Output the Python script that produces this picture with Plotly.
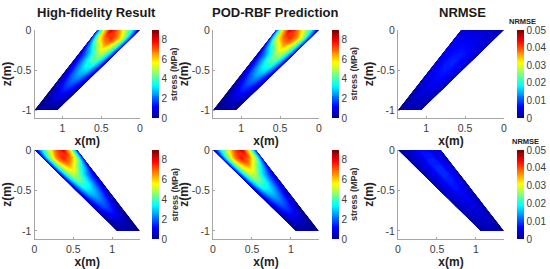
import plotly.graph_objects as go

W, H = 550, 269

# Parallelogram geometry (m)
depths = [0, 0.1, 0.2, 0.3, 0.4, 0.5, 0.6, 0.7, 0.8, 0.9, 1.0]
inner_edge = [0, 0.106, 0.212, 0.318, 0.424, 0.53, 0.636, 0.742, 0.848, 0.954, 1.06]
outer_edge = [0.55, 0.631, 0.712, 0.793, 0.874, 0.955, 1.036, 1.117, 1.198, 1.279, 1.36]
across = [0, 1/6, 2/6, 3/6, 4/6, 5/6, 1]

# Field values: rows follow depths, columns follow across
stress_hf_top = [
    [0.2, 3.2, 5.0, 6.8, 8.3, 5.8, 1.2],
    [0.8, 4.3, 6.5, 7.6, 6.9, 5.0, 1.0],
    [0.7, 3.9, 5.5, 6.3, 4.8, 3.0, 0.8],
    [0.6, 3.2, 4.8, 4.6, 3.2, 1.8, 0.6],
    [0.5, 2.6, 3.9, 3.8, 2.8, 1.5, 0.5],
    [0.4, 2.0, 3.0, 3.0, 2.3, 1.2, 0.4],
    [0.3, 1.4, 2.2, 2.3, 1.8, 0.9, 0.3],
    [0.2, 1.0, 1.5, 1.7, 1.3, 0.6, 0.2],
    [0.1, 0.6, 1.0, 1.1, 0.8, 0.4, 0.1],
    [0.05, 0.3, 0.5, 0.5, 0.4, 0.2, 0.05],
    [0.0, 0.1, 0.15, 0.15, 0.15, 0.05, 0.0],
]
stress_pod_top = [
    [0.2, 3.3, 5.1, 6.9, 8.2, 6.0, 1.3],
    [0.8, 4.4, 6.5, 7.6, 6.9, 5.2, 1.1],
    [0.7, 4.0, 5.6, 6.3, 4.9, 3.2, 0.8],
    [0.6, 3.3, 4.9, 4.7, 3.3, 1.9, 0.6],
    [0.5, 2.7, 4.0, 3.9, 2.9, 1.6, 0.5],
    [0.4, 2.1, 3.1, 3.1, 2.4, 1.3, 0.4],
    [0.3, 1.4, 2.2, 2.3, 1.8, 0.9, 0.3],
    [0.2, 1.0, 1.5, 1.7, 1.3, 0.6, 0.2],
    [0.1, 0.6, 1.0, 1.1, 0.8, 0.4, 0.1],
    [0.05, 0.3, 0.5, 0.5, 0.4, 0.2, 0.05],
    [0.0, 0.1, 0.15, 0.15, 0.15, 0.05, 0.0],
]
stress_hf_bottom = [
    [0.2, 3.0, 5.0, 7.0, 8.2, 5.8, 1.2],
    [0.8, 4.2, 6.6, 7.7, 6.9, 4.9, 1.0],
    [0.7, 3.9, 5.7, 6.3, 4.8, 3.0, 0.8],
    [0.6, 3.3, 4.9, 4.7, 3.2, 1.8, 0.6],
    [0.5, 2.7, 4.0, 3.8, 2.8, 1.5, 0.5],
    [0.4, 2.1, 3.1, 3.0, 2.3, 1.2, 0.4],
    [0.3, 1.5, 2.2, 2.3, 1.8, 0.9, 0.3],
    [0.2, 1.0, 1.6, 1.7, 1.3, 0.6, 0.2],
    [0.1, 0.6, 1.0, 1.1, 0.8, 0.4, 0.1],
    [0.05, 0.3, 0.5, 0.5, 0.4, 0.2, 0.05],
    [0.0, 0.1, 0.15, 0.15, 0.15, 0.05, 0.0],
]
stress_pod_bottom = [
    [0.2, 3.1, 5.1, 7.1, 8.3, 5.8, 1.2],
    [0.8, 4.3, 6.7, 7.8, 6.9, 4.9, 1.0],
    [0.7, 4.0, 5.8, 6.4, 4.8, 3.0, 0.8],
    [0.6, 3.4, 5.0, 4.8, 3.2, 1.8, 0.6],
    [0.5, 2.8, 4.1, 3.8, 2.8, 1.5, 0.5],
    [0.4, 2.1, 3.1, 3.0, 2.3, 1.2, 0.4],
    [0.3, 1.5, 2.2, 2.3, 1.8, 0.9, 0.3],
    [0.2, 1.0, 1.6, 1.7, 1.3, 0.6, 0.2],
    [0.1, 0.6, 1.0, 1.1, 0.8, 0.4, 0.1],
    [0.05, 0.3, 0.5, 0.5, 0.4, 0.2, 0.05],
    [0.0, 0.1, 0.15, 0.15, 0.15, 0.05, 0.0],
]
nrmse_top = [
    [0.0015, 0.003, 0.004, 0.004, 0.004, 0.0045, 0.005],
    [0.002, 0.0035, 0.0045, 0.005, 0.0055, 0.0055, 0.005],
    [0.002, 0.004, 0.0055, 0.006, 0.0065, 0.006, 0.005],
    [0.0025, 0.0045, 0.0065, 0.0075, 0.007, 0.006, 0.005],
    [0.0025, 0.005, 0.0065, 0.008, 0.0075, 0.006, 0.0045],
    [0.0025, 0.005, 0.0065, 0.0075, 0.007, 0.0055, 0.004],
    [0.0025, 0.0045, 0.006, 0.0065, 0.006, 0.005, 0.0035],
    [0.0025, 0.004, 0.005, 0.0055, 0.005, 0.004, 0.003],
    [0.002, 0.003, 0.004, 0.004, 0.004, 0.003, 0.002],
    [0.001, 0.002, 0.003, 0.003, 0.003, 0.002, 0.0015],
    [0.001, 0.001, 0.002, 0.002, 0.002, 0.0015, 0.001],
]
nrmse_bottom = [
    [0.001, 0.0025, 0.0045, 0.0065, 0.0065, 0.0045, 0.003],
    [0.001, 0.003, 0.005, 0.0072, 0.0072, 0.005, 0.003],
    [0.0015, 0.0035, 0.0055, 0.0078, 0.0078, 0.0055, 0.003],
    [0.002, 0.0035, 0.0055, 0.008, 0.0078, 0.0055, 0.003],
    [0.002, 0.0035, 0.0055, 0.0075, 0.0072, 0.005, 0.003],
    [0.002, 0.0035, 0.005, 0.0068, 0.0065, 0.0045, 0.0025],
    [0.002, 0.0035, 0.0045, 0.0058, 0.0055, 0.004, 0.0025],
    [0.002, 0.003, 0.004, 0.0045, 0.0045, 0.0035, 0.002],
    [0.001, 0.0025, 0.0035, 0.004, 0.0035, 0.003, 0.0015],
    [0.001, 0.002, 0.003, 0.003, 0.003, 0.002, 0.001],
    [0.001, 0.0015, 0.002, 0.002, 0.002, 0.001, 0.001],
]

column_titles = ["High-fidelity Result", "POD-RBF Prediction", "NRMSE"]
title_centers = [96, 275, 462]
x_ticks = [0, 0.5, 1]
z_ticks = [0, -0.5, -1]
z_tick_text = ["0", "-0.5", "-1"]
stress_ticks = [0, 2, 4, 6, 8]
nrmse_ticks = [0, 0.01, 0.02, 0.03, 0.04, 0.05]

JET = [
    [0.0, "rgb(0,0,135)"], [0.125, "rgb(0,0,255)"],
    [0.375, "rgb(0,255,255)"], [0.625, "rgb(255,255,0)"],
    [0.875, "rgb(255,0,0)"], [1.0, "rgb(128,0,0)"],
]
AXIS = "#a6a6a6"
TICK = "#3c3c3c"
FONT = "Liberation Sans"

cols = [(34.5, 140, 152, 159), (213, 319, 332, 338.5), (398, 504, 517, 524)]
rows = [(30, 118), (150, 239)]
nrmse_title_pos = [(522.5, 21.5), (525, 141.5)]

panels = [
    (0, 0, stress_hf_top, 9, True), (0, 1, stress_pod_top, 9, True), (0, 2, nrmse_top, 0.05, True),
    (1, 0, stress_hf_bottom, 9, False), (1, 1, stress_pod_bottom, 9, False), (1, 2, nrmse_bottom, 0.05, False),
]

X2D = [[l + a * (r - l) for a in across] for l, r in zip(inner_edge, outer_edge)]
Y2D = [[-d for _ in across] for d in depths]

fig = go.Figure()
annotations = []
layout = {}
for i, (r, c, field, zmax, flipped) in enumerate(panels):
    n = i + 1
    left, right, cl, cr = cols[c]
    top, bottom = rows[r]
    xname, yname = f"x{n}", f"y{n}"
    layout[f"xaxis{n}"] = dict(
        domain=[left / W, right / W], anchor=yname, range=[1.36, 0] if flipped else [0, 1.36],
        tickmode="array", tickvals=x_ticks, ticktext=["0", "0.5", "1"],
        showgrid=False, zeroline=False, showline=True,
        linecolor=AXIS, linewidth=1, ticks="inside", ticklen=2, tickcolor=AXIS,
        tickfont=dict(family=FONT, size=10.5, color=TICK),
        title=dict(text="<b>x(m)</b>", standoff=0 if flipped else 1,
                   font=dict(family=FONT, size=12, color="#222")),
    )
    layout[f"yaxis{n}"] = dict(
        domain=[1 - bottom / H, 1 - top / H], anchor=xname, range=[-1.1, 0],
        tickmode="array", tickvals=z_ticks, ticktext=z_tick_text,
        showgrid=False, zeroline=False, showline=True,
        linecolor=AXIS, linewidth=1, ticks="inside", ticklen=2, tickcolor=AXIS,
        tickfont=dict(family=FONT, size=10.5, color=TICK),
        title=dict(text="<b>z(m)</b>", standoff=0,
                   font=dict(family=FONT, size=12, color="#222")),
    )
    cid = f"carpet{n}"
    hidden = dict(showgrid=False, minorgridcount=0, tickmode="array", tickvals=[], ticktext=[],
                  showticklabels="none", startline=False, endline=False, smoothing=0)
    fig.add_trace(go.Carpet(
        carpet=cid, a=across, b=depths, x=X2D, y=Y2D, xaxis=xname, yaxis=yname,
        aaxis=hidden, baxis=hidden,
    ))
    is_stress = zmax == 9
    fig.add_trace(go.Contourcarpet(
        carpet=cid, a=across, b=depths, z=field, xaxis=xname, yaxis=yname,
        autocontour=False, zmin=0, zmax=zmax,
        contours=dict(start=0, end=zmax, size=zmax / 90, coloring="fill", showlines=False),
        line=dict(width=0), colorscale=JET,
        colorbar=dict(
            x=cl / W, xanchor="left", xpad=0, thickness=cr - cl, thicknessmode="pixels",
            y=1 - bottom / H, yanchor="bottom", ypad=0, len=(bottom - top) / H, lenmode="fraction",
            outlinewidth=0, ticks="", tickmode="array",
            tickvals=stress_ticks if is_stress else nrmse_ticks,
            ticktext=[str(v) for v in (stress_ticks if is_stress else nrmse_ticks)],
            tickfont=dict(family=FONT, size=10, color=TICK),
        ),
    ))
    if is_stress:
        annotations.append(dict(text="<b>stress (MPa)</b>", xref="paper", yref="paper",
                                x=(cr + 15) / W, y=1 - (top + bottom) / 2 / H, textangle=-90,
                                xanchor="center", yanchor="middle",
                                showarrow=False, font=dict(family=FONT, size=9, color="#333")))
    else:
        tx, ty = nrmse_title_pos[r]
        annotations.append(dict(text="<b>NRMSE</b>", xref="paper", yref="paper",
                                x=tx / W, y=1 - ty / H,
                                xanchor="center", yanchor="middle",
                                showarrow=False, font=dict(family=FONT, size=7.5, color="#222")))
    if r == 0:
        annotations.append(dict(text=f"<b>{column_titles[c]}</b>", xref="paper", yref="paper",
                                x=title_centers[c] / W, y=1 - 12.5 / H,
                                xanchor="center", yanchor="middle",
                                showarrow=False, font=dict(family=FONT, size=13, color="#1a1a1a")))

fig.update_layout(
    width=W, height=H, margin=dict(l=0, r=0, t=0, b=0, autoexpand=False), showlegend=False,
    paper_bgcolor="white", plot_bgcolor="white", annotations=annotations, **layout,
)
fig.write_html("out.html", config={"displayModeBar": False},
               post_script="document.body.style.margin='0';")
